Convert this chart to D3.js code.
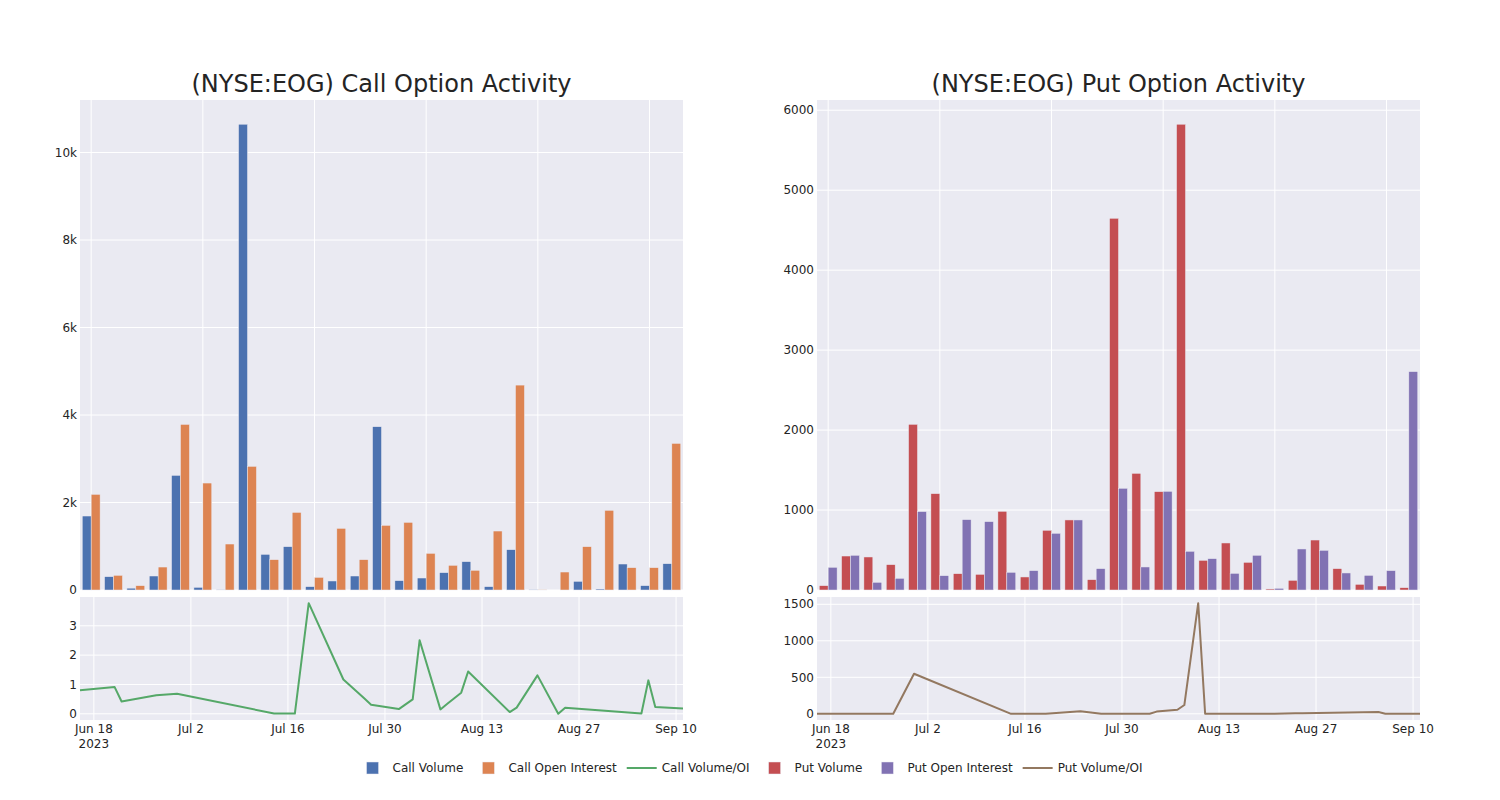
<!DOCTYPE html>
<html><head><meta charset="utf-8">
<script src="https://cdn.jsdelivr.net/npm/d3@7"></script>
<style>
body{margin:0;background:#fff;}
text{font-family:"DejaVu Sans",Verdana,sans-serif;fill:rgb(36,36,36);}
</style>
</head><body>
<svg id="chart" width="1500" height="800"></svg>
<script>
// ---- data ----
const dates = ["2023-06-16","2023-06-21","2023-06-22","2023-06-27","2023-06-30","2023-07-14","2023-07-17","2023-07-19","2023-07-24","2023-07-27","2023-07-28","2023-08-01","2023-08-03","2023-08-04","2023-08-07","2023-08-08","2023-08-10","2023-08-11","2023-08-17","2023-08-18","2023-08-21","2023-08-24","2023-08-25","2023-09-05","2023-09-06","2023-09-07","2023-09-11"];
const callVolume = [1691,304,42,320,2620,61,8,10647,815,990,76,206,320,3732,213,274,396,648,76,921,5,0,198,23,594,99,601];
const callOpenInterest = [2186,335,99,525,3785,2445,1051,2826,693,1774,289,1409,693,1477,1546,838,564,450,1348,4684,4,411,990,1821,510,510,3351];
const callVolOI = [0.80,0.91,0.42,0.63,0.68,0.01,0.01,3.77,1.17,0.53,0.31,0.16,0.49,2.51,0.15,0.34,0.72,1.44,0.06,0.21,1.31,0.0,0.21,0.01,1.14,0.23,0.18];
const putVolume = [54,425,413,317,2072,1205,204,196,984,163,747,876,129,4649,1459,1230,5825,371,588,346,13,121,625,267,71,50,29];
const putOpenInterest = [284,434,96,146,980,179,880,855,221,242,709,876,267,1272,288,1234,484,392,208,434,21,513,496,213,183,242,2731];
const putVolOI = [0,0,0,0,549,0,0,0,35,0,0,0,0,30,55,120,1515,0,0,0,2,6,8,24,1,0,0];
const dateTickValues = ["2023-06-18","2023-07-02","2023-07-16","2023-07-30","2023-08-13","2023-08-27","2023-09-10"];
const titles = ["(NYSE:EOG) Call Option Activity","(NYSE:EOG) Put Option Activity"];
const legendLabels = ["Call Volume","Call Open Interest","Call Volume/OI","Put Volume","Put Open Interest","Put Volume/OI"];

// ---- styling ----
const COLORS = {callVol:"rgb(76,114,176)", callOI:"rgb(221,132,82)", callLine:"rgb(85,168,104)",
                putVol:"rgb(196,78,82)", putOI:"rgb(129,114,179)", putLine:"rgb(147,120,96)"};
const BG = "rgb(234,234,242)";
const parse = d3.timeParse("%Y-%m-%d");
const dateObjs = dates.map(parse);
const svg = d3.select("#chart");

function panel(opt){
  const {x0,x1,title,vol,oi,ratio,cVol,cOI,cLine,topFmt} = opt;
  const yT0 = 100, yT1 = 590, yB0 = 597, yB1 = 720;
  const g = svg.append("g");
  g.append("rect").attr("x",x0).attr("y",yT0).attr("width",x1-x0).attr("height",yT1-yT0).attr("fill",BG);
  g.append("rect").attr("x",x0).attr("y",yB0).attr("width",x1-x0).attr("height",yB1-yB0).attr("fill",BG);

  // top: categorical bars
  const xb = d3.scaleBand().domain(d3.range(dates.length)).range([x0,x1]).padding(0);
  const ymax = d3.max(vol.concat(oi))*1.052;
  const yt = d3.scaleLinear().domain([0,ymax]).range([yT1,yT0]);
  const bw = xb.bandwidth();
  // grid
  const yTicks = yt.ticks(6);
  g.selectAll(null).data(yTicks).enter().append("line")
    .attr("x1",x0).attr("x2",x1).attr("y1",d=>yt(d)).attr("y2",d=>yt(d))
    .attr("stroke","#fff").attr("stroke-width",1);
  g.selectAll(null).data(d3.range(dates.length).filter(i=>i%5===0)).enter().append("line")
    .attr("x1",i=>xb(i)+bw/2).attr("x2",i=>xb(i)+bw/2).attr("y1",yT0).attr("y2",yT1)
    .attr("stroke","#fff").attr("stroke-width",1);
  // y tick labels
  g.selectAll(null).data(yTicks).enter().append("text")
    .attr("x",x0-3).attr("y",d=>yt(d)).attr("dy","0.35em").attr("text-anchor","end")
    .attr("font-size",12).text(d=>topFmt(d));
  const barW = bw*0.4;
  const gap = bw*0.1;
  [[vol,cVol,0],[oi,cOI,1]].forEach(([arr,col,k])=>{
    g.selectAll(null).data(arr).enter().append("rect")
      .attr("x",(d,i)=>xb(i)+gap+k*barW).attr("width",barW)
      .attr("y",d=>yt(d)).attr("height",d=>yT1-yt(d))
      .attr("fill",col).attr("stroke",BG).attr("stroke-width",0.5);
  });

  // bottom: time line
  const xt = d3.scaleTime().domain(d3.extent(dateObjs)).range([x0,x1]);
  const [mn,mx] = d3.extent(ratio);
  const pad = (mx-mn)*0.056;
  const yb = d3.scaleLinear().domain([mn-pad,mx+pad]).range([yB1,yB0]);
  const ybTicks = yb.ticks(4).filter(d=>d>=mn-pad && d<=mx+pad);
  g.selectAll(null).data(ybTicks).enter().append("line")
    .attr("x1",x0).attr("x2",x1).attr("y1",d=>yb(d)).attr("y2",d=>yb(d))
    .attr("stroke","#fff").attr("stroke-width",1);
  const tickD = dateTickValues.map(parse);
  g.selectAll(null).data(tickD).enter().append("line")
    .attr("x1",d=>xt(d)).attr("x2",d=>xt(d)).attr("y1",yB0).attr("y2",yB1)
    .attr("stroke","#fff").attr("stroke-width",1);
  g.selectAll(null).data(ybTicks).enter().append("text")
    .attr("x",x0-3).attr("y",d=>yb(d)).attr("dy","0.35em").attr("text-anchor","end")
    .attr("font-size",12).text(d=>d3.format("~g")(d));
  const fmt = d3.timeFormat("%b %-d");
  const tl = g.selectAll(null).data(tickD).enter().append("text")
    .attr("x",d=>xt(d)).attr("y",733).attr("text-anchor","middle").attr("font-size",12);
  tl.append("tspan").attr("x",d=>xt(d)).text(d=>fmt(d));
  tl.filter((d,i)=>i===0).append("tspan").attr("x",d=>xt(d)).attr("dy",15).text(d=>d3.timeFormat("%Y")(d));
  const line = d3.line().x((d,i)=>xt(dateObjs[i])).y(d=>yb(d));
  g.append("path").datum(ratio).attr("d",line).attr("fill","none")
    .attr("stroke",cLine).attr("stroke-width",2).attr("stroke-linejoin","round");

  // title
  g.append("text").attr("x",(x0+x1)/2).attr("y",92).attr("text-anchor","middle")
    .attr("font-size",24).text(title);
}

panel({x0:80,x1:683,title:titles[0],vol:callVolume,oi:callOpenInterest,ratio:callVolOI,
  cVol:COLORS.callVol,cOI:COLORS.callOI,cLine:COLORS.callLine,topFmt:d3.format("~s")});
panel({x0:817,x1:1420,title:titles[1],vol:putVolume,oi:putOpenInterest,ratio:putVolOI,
  cVol:COLORS.putVol,cOI:COLORS.putOI,cLine:COLORS.putLine,topFmt:d3.format("d")});

// legend
const legTypes = ["bar","bar","line","bar","bar","line"];
const legColors = [COLORS.callVol,COLORS.callOI,COLORS.callLine,COLORS.putVol,COLORS.putOI,COLORS.putLine];
const lg = svg.append("g");
const items = legendLabels.map((lab,i)=>{
  const it = lg.append("g");
  if(legTypes[i]==="bar"){
    it.append("rect").attr("x",14).attr("y",-6).attr("width",12).attr("height",12)
      .attr("fill",legColors[i]).attr("stroke",BG).attr("stroke-width",0.5);
  } else {
    it.append("line").attr("x1",5).attr("x2",35).attr("y1",0).attr("y2",0)
      .attr("stroke",legColors[i]).attr("stroke-width",2);
  }
  const t = it.append("text").attr("x",40).attr("dy","0.35em").attr("font-size",12).text(lab);
  return {it, w:40+t.node().getComputedTextLength()+5};
});
const total = d3.sum(items,d=>d.w);
let cx = 750 - total/2;
items.forEach(d=>{ d.it.attr("transform",`translate(${cx},768)`); cx += d.w; });
</script>
</body></html>
